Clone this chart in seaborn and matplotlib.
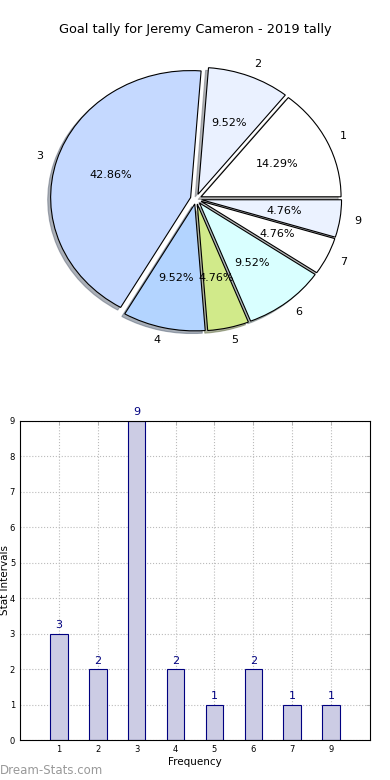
import matplotlib
matplotlib.use("Agg")
import matplotlib.pyplot as plt
import seaborn as sns
import pandas as pd

# 資料
labels = ["1", "2", "3", "4", "5", "6", "7", "9"]
counts = [3, 2, 9, 2, 1, 2, 1, 1]
pie_colors = ["#ffffff", "#eaf1ff", "#c5d9ff", "#b3d4ff", "#d1ea8a", "#d9ffff", "#ffffff", "#ebf2ff"]

sns.set_style("white")
plt.rcParams['font.family'] = ['DejaVu Sans']
plt.rcParams['text.color'] = 'black'
plt.rcParams['axes.labelcolor'] = 'black'
plt.rcParams['xtick.labelcolor'] = 'black'
plt.rcParams['ytick.labelcolor'] = 'black'

fig = plt.figure(figsize=(3.9, 7.8), dpi=100)

# 圓餅圖（舊版 matplotlib 風格，橢圓形）
wx, wy = 364, 330
cx, cy = 196, 199
ax1 = fig.add_axes([(cx - wx / 2) / 390, 1 - (cy + wy / 2) / 780, wx / 390, wy / 780])
ax1.pie(counts, labels=labels, colors=pie_colors, autopct='%1.2f%%',
        explode=[0.04] * len(counts),
        shadow={'ox': -0.015, 'oy': -0.015, 'shade': 0.55}, startangle=0,
        wedgeprops={'edgecolor': 'black', 'linewidth': 0.8},
        textprops={'fontsize': 8, 'color': 'black'})
ax1.set_xlim(-1.3, 1.3)
ax1.set_ylim(-1.3, 1.3)
ax1.set_aspect('auto')
ax1.axis('off')
fig.text(0.5, 1 - 30 / 780, "Goal tally for Jeremy Cameron - 2019 tally",
         ha='center', va='center', fontsize=9.3)

# 長條圖
ax2 = fig.add_axes([20 / 390, 40 / 780, 350 / 390, 319 / 780])
df = pd.DataFrame({'label': labels, 'count': counts})
sns.barplot(data=df, x='label', y='count', ax=ax2, width=0.45,
            color='#ccccE4', edgecolor='#000080', linewidth=0.8, saturation=1)
for i, c in enumerate(counts):
    ax2.text(i, c + 0.1, str(c), ha='center', va='bottom', color='#000080', fontsize=8)
ax2.set_xlim(-1, 8)
ax2.set_ylim(0, 9)
ax2.set_yticks(range(10))
ax2.grid(True, linestyle=':', color='#bbbbbb', linewidth=0.8)
ax2.set_axisbelow(True)
ax2.tick_params(axis='both', direction='in', labelsize=6, top=True, right=True,
                length=3, width=0.6, color='#aaaaaa')
for s in ax2.spines.values():
    s.set_color('black')
    s.set_linewidth(0.8)
ax2.set_xlabel("Frequency", fontsize=7.5, labelpad=2)
ax2.set_ylabel("")
fig.text(5 / 390, 1 - 580 / 780, "Stat Intervals", rotation=90, fontsize=7.5,
         ha='center', va='center')

fig.text(0.0, 1 - 770 / 780, "Dream-Stats.com", color='#999999', fontsize=8.5,
         ha='left', va='center')

fig.savefig("out.png", dpi=100)
